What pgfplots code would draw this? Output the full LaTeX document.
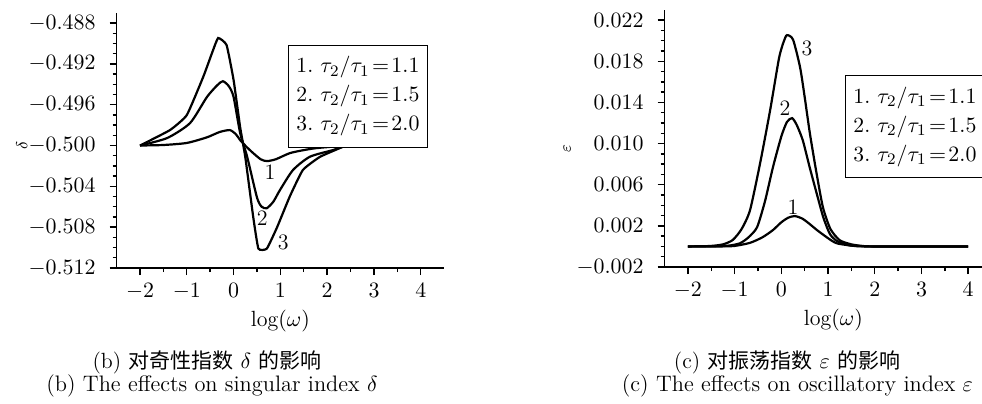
\documentclass[border=0pt]{standalone}
\usepackage{fontspec}
\newfontfamily\cjk{Noto Sans CJK SC}
\usepackage{pgfplots}
\pgfplotsset{compat=1.18}

\pgfplotsset{
  panel/.style={
    scale only axis,
    anchor=south west,
    axis x line=bottom,
    axis y line=left,
    axis line style={-, line width=0.8pt},
    tick align=outside,
    major tick length=3.5pt,
    minor tick length=2pt,
    every tick/.style={line width=0.7pt, black},
    minor x tick num=1,
    minor y tick num=3,
    xtick={-2,-1,0,1,2,3,4},
    xmin=-2.5,
    scaled y ticks=false,
    ticklabel style={font=\fontsize{11}{13}\selectfont},
    yticklabel style={xshift=-3.5pt, /pgf/number format/fixed,/pgf/number format/fixed zerofill,/pgf/number format/precision=3},
    xticklabel style={yshift=-0.5pt},
    xlabel={$\log(\omega)$},
    xlabel style={font=\fontsize{11}{13}\selectfont, yshift=1.5pt},
    clip=false,
  },
  crv/.style={black, line width=1.1pt, smooth, tension=0.4, no marks},
}
\tikzset{
  lbl/.style={font=\fontsize{11}{13}\selectfont},
  lgd/.style={draw, fill=white, line width=0.6pt, anchor=north west, align=left,
    inner xsep=4pt, inner ysep=5.5pt, font=\fontsize{10.8}{14.5}\selectfont},
}

\begin{document}
\begin{tikzpicture}
\useasboundingbox (0,0) rectangle (491pt,201.5pt);

% (b) singular index delta
\begin{axis}[panel,
  at={(58.3pt,67.5pt)},
  width=163.8pt, height=127.6pt,
  xmax=4.5,
  ymin=-0.512, ymax=-0.487,
  ytick={-0.512,-0.508,-0.504,-0.5,-0.496,-0.492,-0.488},
  ylabel={$\delta$},
  ylabel style={at={(axis description cs:-0.289,0.48)}, anchor=center, font=\fontsize{8}{10}\selectfont},
]
\addplot[crv] coordinates {(-2,-0.5) (-1.5,-0.49995) (-1.0,-0.49975) (-0.57,-0.4992) (-0.3,-0.49868) (-0.08,-0.49849) (0.05,-0.4989) (0.14,-0.49947) (0.28,-0.50015) (0.42,-0.50075) (0.58,-0.50135) (0.71,-0.50153) (0.9,-0.50135) (1.2,-0.50075) (1.5,-0.50045) (1.78,-0.50025) (2.4,-0.5)};
\addplot[crv] coordinates {(-2,-0.5) (-1.42,-0.49927) (-0.93,-0.4978) (-0.57,-0.49525) (-0.35,-0.4941) (-0.23,-0.4937) (-0.1,-0.4942) (0.0,-0.49525) (0.14,-0.49878) (0.29,-0.5011) (0.5,-0.5051) (0.6,-0.5060) (0.71,-0.50614) (0.85,-0.5055) (0.99,-0.50437) (1.27,-0.5024) (1.63,-0.5011) (2.12,-0.50045) (2.4,-0.5)};
\addplot[crv, tension=0.25] coordinates {(-2,-0.5) (-1.36,-0.49849) (-1.0,-0.49702) (-0.65,-0.49329) (-0.45,-0.4908) (-0.33,-0.48947) (-0.15,-0.49016) (0.0,-0.49359) (0.14,-0.4982) (0.25,-0.50114) (0.42,-0.50702) (0.53,-0.5101) (0.71,-0.5101) (0.93,-0.508) (1.2,-0.505) (1.48,-0.5024) (1.85,-0.5011) (2.4,-0.5)};
\node[lbl] at (axis cs:0.78,-0.50259) {1};
\node[lbl] at (axis cs:0.61,-0.5071) {2};
\node[lbl] at (axis cs:1.06,-0.50945) {3};
\node[lgd] at (axis cs:1.16,-0.49015)
  {1.\ $\tau_2/\tau_1\!=\!1.1$\\ 2.\ $\tau_2/\tau_1\!=\!1.5$\\ 3.\ $\tau_2/\tau_1\!=\!2.0$};
\end{axis}

% (c) oscillatory index epsilon
\begin{axis}[panel,
  at={(332.3pt,68pt)},
  width=158.8pt, height=128.6pt,
  xmax=4.3,
  ymin=-0.002, ymax=0.023,
  ytick={-0.002,0.002,0.006,0.010,0.014,0.018,0.022},
  ylabel={$\varepsilon$},
  ylabel style={at={(axis description cs:-0.307,0.46)}, anchor=center, font=\fontsize{8}{10}\selectfont},
  xlabel style={xshift=5pt},
]
\addplot[crv] coordinates {(-2,0) (-1.3,0) (-1.0,0.00005) (-0.67,0.00035) (-0.4,0.0009) (-0.18,0.00159) (0.0,0.00235) (0.15,0.0028) (0.29,0.00295) (0.45,0.0027) (0.6,0.0022) (0.76,0.0016) (1.0,0.0008) (1.19,0.0003) (1.6,0.00003) (2,0) (4,0)};
\addplot[crv] coordinates {(-2,0) (-1.2,0.00005) (-0.89,0.0003) (-0.7,0.0009) (-0.52,0.00187) (-0.35,0.0044) (-0.18,0.0077) (0.0,0.0107) (0.12,0.0121) (0.23,0.01247) (0.33,0.0118) (0.46,0.0103) (0.6,0.0078) (0.76,0.00509) (0.9,0.0028) (1.04,0.0012) (1.2,0.0005) (1.47,0.0001) (2,0) (4,0)};
\addplot[crv] coordinates {(-2,0) (-1.53,0.00004) (-1.25,0.0002) (-1.04,0.00063) (-0.85,0.0017) (-0.67,0.00354) (-0.45,0.0082) (-0.24,0.01325) (-0.05,0.0183) (0.05,0.0199) (0.12,0.02054) (0.25,0.0201) (0.4,0.01743) (0.5,0.0145) (0.61,0.01101) (0.75,0.0072) (0.89,0.00381) (1.05,0.0017) (1.25,0.0006) (1.5,0.0002) (1.75,0.00004) (2,0) (4,0)};
\node[lbl] at (axis cs:0.25,0.00383) {1};
\node[lbl] at (axis cs:0.08,0.01345) {2};
\node[lbl] at (axis cs:0.55,0.01928) {3};
\node[lgd] at (axis cs:1.36,0.01666)
  {1.\ $\tau_2/\tau_1\!=\!1.1$\\ 2.\ $\tau_2/\tau_1\!=\!1.5$\\ 3.\ $\tau_2/\tau_1\!=\!2.0$};
\end{axis}

% captions
\node[font=\fontsize{11}{13}\selectfont] at (103.5pt,20.5pt) {(b) {\cjk\fontsize{10.5}{12}\selectfont 对奇性指数} $\delta$ {\cjk\fontsize{10.5}{12}\selectfont 的影响}};
\node[font=\fontsize{11.2}{13}\selectfont] at (106pt,8.5pt) {(b) The effects on singular index $\delta$};
\node[font=\fontsize{11}{13}\selectfont] at (393.5pt,20.5pt) {(c) {\cjk\fontsize{10.5}{12}\selectfont 对振荡指数} $\varepsilon$ {\cjk\fontsize{10.5}{12}\selectfont 的影响}};
\node[font=\fontsize{11.2}{13}\selectfont, anchor=east] at (490pt,8.5pt) {(c) The effects on oscillatory index $\varepsilon$};
\end{tikzpicture}
\end{document}
